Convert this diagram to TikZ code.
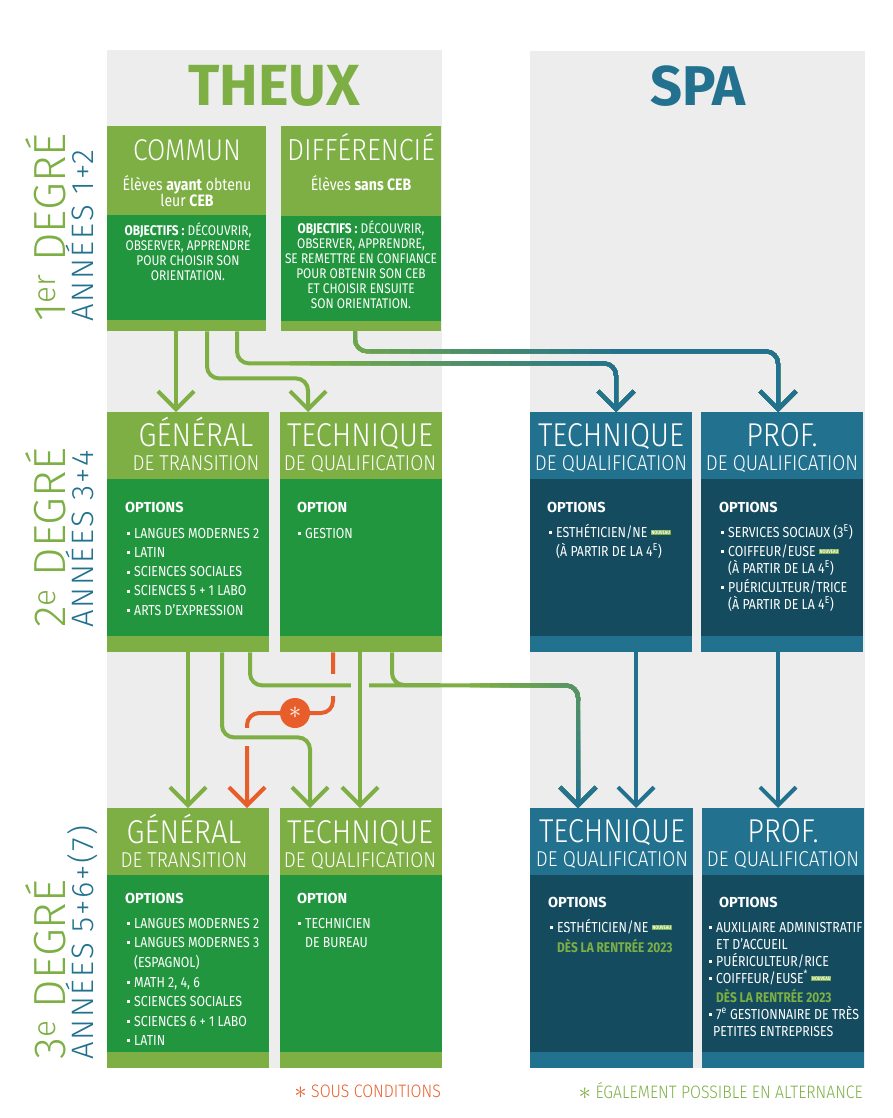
\documentclass[tikz,border=0pt]{standalone}
\usepackage{fontspec}
\setmainfont{Fira Sans}
\newfontfamily\narrow[FakeStretch=0.85]{Fira Sans}
\newfontfamily\thin[FakeStretch=0.88]{Fira Sans Light}
\newfontfamily\thinlbl{Fira Sans Light}
\usetikzlibrary{arrows.meta}

\definecolor{lgreen}{RGB}{125,175,69}
\definecolor{dgreen}{RGB}{34,150,63}
\definecolor{lblue}{RGB}{33,113,143}
\definecolor{dblue}{RGB}{20,75,95}
\definecolor{orng}{RGB}{232,94,42}
\definecolor{panel}{RGB}{237,237,237}

\newcommand{\bul}{\raisebox{3pt}{\rule{3pt}{3pt}}\hspace{4pt}}
\newcommand{\nouveau}{\raisebox{2.5pt}{\fboxsep=0.9pt\colorbox{lgreen}{\fontsize{5}{5}\selectfont\bfseries\color{white}NOUVEAU}}}
\newcommand{\notestar}{{\fontsize{26}{18}\selectfont\raisebox{-1pt}{$\ast$}}}

% name, x, y, width, height, head, strip, light, dark
\newcommand{\stagebox}[9]{%
  \node[anchor=north west, inner sep=0pt, fill=#8, minimum width=#4pt, minimum height=#5pt] (#1) at (#2,#3) {};
  \fill[#9] ([yshift=-#6pt]#1.north west) rectangle ([yshift=#7pt]#1.south east);
}

\def\pathA{([xshift=130pt]commun.south west) -- ++(0,32) -| ([xshift=86pt]spatq2.north west)}
\def\pathB{([xshift=74pt]diff.south west) -- ++(0,20) -| ([xshift=77pt]prof2.north west)}
\def\pathC{([xshift=143pt]gen2.south west) -- ++(0,33) -| ([xshift=48pt]spatq3.north west)}

\tikzset{
  barb/.tip={Straight Barb[length=18pt,width=36pt,line cap=butt,line join=miter]},
  conn/.style={line width=4pt, rounded corners=12pt, -barb},
  gline/.style={conn, draw=lgreen},
  bline/.style={conn, draw=lblue},
  oline/.style={line width=4pt, rounded corners=12pt, draw=orng},
  bigtitle/.style={anchor=base, inner sep=0pt, text=white, text depth=0pt, font=\thin\fontsize{33}{33}\selectfont},
  subtitle/.style={anchor=base, inner sep=0pt, text=white, text height=14pt, text depth=0pt, font=\thin\fontsize{21.5}{22}\selectfont},
  ceb/.style={anchor=base, inner sep=0pt, text=white, font=\narrow\fontsize{16.5}{16}\selectfont},
  objline/.style={anchor=base, inner sep=0pt, text=white, text height=10pt, text depth=2pt, font=\narrow\fontsize{14}{14}\selectfont},
  opthead/.style={anchor=base west, inner sep=0pt, text=white, font=\bfseries\fontsize{14.5}{14}\selectfont},
  optline/.style={anchor=base west, inner sep=0pt, text=white, text height=10pt, text depth=2pt, font=\narrow\fontsize{14.5}{14}\selectfont},
  rentree/.style={optline, text=lgreen, font=\narrow\bfseries\fontsize{14}{14}\selectfont},
  degree/.style={rotate=90, anchor=base west, inner sep=0pt, text=lgreen, font=\thinlbl\fontsize{45}{45}\selectfont},
  years/.style={rotate=90, anchor=base west, inner sep=0pt, text=lblue, font=\thinlbl\fontsize{31}{31}\selectfont\addfontfeature{LetterSpace=6}},
}

\begin{document}
\begin{tikzpicture}[x=1pt, y=-1pt]
	\useasboundingbox (0,0) rectangle (892,1118);

	% panels
	\fill[panel] (107,50) rectangle (442,1068);
	\fill[panel] (530,51) rectangle (865,1068);
	\node[anchor=base, text=lgreen, font=\bfseries\fontsize{58}{58}\selectfont] (theux) at (274,106) {THEUX};
	\node[anchor=base, text=lblue, font=\bfseries\fontsize{56}{56}\selectfont] (spa) at (698,106) {SPA};

	% degree labels
	\node[degree] (deg1) at (65,322) {1\textsuperscript{er} DEGRÉ};
	\node[years] (yr1) at (93,322) {ANNÉES 1+2};
	\node[degree] (deg2) at (65,628) {2\textsuperscript{e} DEGRÉ};
	\node[years] (yr2) at (93,628) {ANNÉES 3+4};
	\node[degree] (deg3) at (65,1060) {3\textsuperscript{e} DEGRÉ};
	\node[years] (yr3) at (93,1060) {ANNÉES 5+6+(7)};

	% boxes
	\stagebox{commun}{107}{126}{159}{205}{89}{11}{lgreen}{dgreen}
	\stagebox{diff}{281}{126}{160}{205}{90}{10}{lgreen}{dgreen}
	\stagebox{gen2}{107}{412}{162}{240}{67}{16}{lgreen}{dgreen}
	\stagebox{tq2}{280}{412}{162}{240}{67}{16}{lgreen}{dgreen}
	\stagebox{spatq2}{530}{412}{162}{240}{67}{16}{lblue}{dblue}
	\stagebox{prof2}{701}{412}{162}{240}{67}{16}{lblue}{dblue}
	\stagebox{gen3}{107}{808}{162}{260}{67}{16}{lgreen}{dgreen}
	\stagebox{tq3}{280}{808}{162}{260}{67}{16}{lgreen}{dgreen}
	\stagebox{spatq3}{530}{808}{163}{260}{67}{16}{lblue}{dblue}
	\stagebox{prof3}{702}{808}{162}{260}{67}{16}{lblue}{dblue}

	% 1er degre
	\node[bigtitle, font=\thin\fontsize{30}{30}\selectfont] (commun-t) at (187,161) {COMMUN};
	\node[ceb] (commun-c1) at (187,190) {Élèves \textbf{ayant} obtenu};
	\node[ceb] (commun-c2) at (187,207) {leur \textbf{CEB}};
	\node[objline] (commun-o1) at (188,235) {\textbf{OBJECTIFS :} DÉCOUVRIR,};
	\node[objline] (commun-o2) at (188,250) {OBSERVER, APPRENDRE};
	\node[objline] (commun-o3) at (188,265) {POUR CHOISIR SON};
	\node[objline] (commun-o4) at (188,280) {ORIENTATION.};

	\node[bigtitle, font=\thin\fontsize{30.5}{30}\selectfont] (diff-t) at (361,161) {DIFFÉRENCIÉ};
	\node[ceb] (diff-c1) at (361,190) {Élèves \textbf{sans CEB}};
	\node[objline] (diff-o1) at (361,233) {\textbf{OBJECTIFS :} DÉCOUVRIR,};
	\node[objline] (diff-o2) at (361,248) {OBSERVER, APPRENDRE,};
	\node[objline] (diff-o3) at (361,263) {SE REMETTRE EN CONFIANCE};
	\node[objline] (diff-o4) at (361,278) {POUR OBTENIR SON CEB};
	\node[objline] (diff-o5) at (361,293) {ET CHOISIR ENSUITE};
	\node[objline] (diff-o6) at (361,308) {SON ORIENTATION.};

	% 2e degre
	\node[bigtitle] (gen2-t) at (196,446) {GÉNÉRAL};
	\node[subtitle] (gen2-s) at (196,470) {DE TRANSITION};
	\node[opthead] (gen2-h) at (125,512) {OPTIONS};
	\foreach \t [count=\i from 0] in {LANGUES MODERNES 2, LATIN, SCIENCES SOCIALES, SCIENCES 5 + 1 LABO, ARTS D’EXPRESSION}
		\node[optline] (gen2-\i) at (127,538+19.3*\i) {\bul\t};

	\node[bigtitle] (tq2-t) at (360,446) {TECHNIQUE};
	\node[subtitle] (tq2-s) at (360,470) {DE QUALIFICATION};
	\node[opthead] (tq2-h) at (297,512) {OPTION};
	\node[optline] (tq2-0) at (298,538) {\bul GESTION};

	\node[bigtitle] (spatq2-t) at (611,446) {TECHNIQUE};
	\node[subtitle] (spatq2-s) at (611,470) {DE QUALIFICATION};
	\node[opthead] (spatq2-h) at (547,512) {OPTIONS};
	\node[optline] (spatq2-0) at (549,537) {\bul ESTHÉTICIEN/NE \nouveau};
	\node[optline] (spatq2-1) at (556,556) {(À PARTIR DE LA 4\textsuperscript{E})};

	\node[bigtitle] (prof2-t) at (782,446) {PROF.};
	\node[subtitle] (prof2-s) at (782,470) {DE QUALIFICATION};
	\node[opthead] (prof2-h) at (719,512) {OPTIONS};
	\node[optline] (prof2-0) at (721,537) {\bul SERVICES SOCIAUX (3\textsuperscript{E})};
	\node[optline] (prof2-1) at (721,556) {\bul COIFFEUR/EUSE \nouveau};
	\node[optline] (prof2-2) at (728,573) {(À PARTIR DE LA 4\textsuperscript{E})};
	\node[optline] (prof2-3) at (721,592) {\bul PUÉRICULTEUR/TRICE};
	\node[optline] (prof2-4) at (728,609) {(À PARTIR DE LA 4\textsuperscript{E})};

	% 3e degre
	\node[bigtitle] (gen3-t) at (184,843) {GÉNÉRAL};
	\node[subtitle] (gen3-s) at (184,867) {DE TRANSITION};
	\node[opthead] (gen3-h) at (125,903) {OPTIONS};
	\node[optline] (gen3-0) at (127,928) {\bul LANGUES MODERNES 2};
	\node[optline] (gen3-1) at (127,947) {\bul LANGUES MODERNES 3};
	\node[optline] (gen3-2) at (134,967) {(ESPAGNOL)};
	\node[optline] (gen3-3) at (127,987) {\bul MATH 2, 4, 6};
	\node[optline] (gen3-4) at (127,1006) {\bul SCIENCES SOCIALES};
	\node[optline] (gen3-5) at (127,1026) {\bul SCIENCES 6 + 1 LABO};
	\node[optline] (gen3-6) at (127,1045) {\bul LATIN};

	\node[bigtitle] (tq3-t) at (360,843) {TECHNIQUE};
	\node[subtitle] (tq3-s) at (360,867) {DE QUALIFICATION};
	\node[opthead] (tq3-h) at (297,903) {OPTION};
	\node[optline] (tq3-0) at (298,928) {\bul TECHNICIEN};
	\node[optline] (tq3-1) at (305,947) {DE BUREAU};

	\node[bigtitle] (spatq3-t) at (612,842) {TECHNIQUE};
	\node[subtitle] (spatq3-s) at (612,866) {DE QUALIFICATION};
	\node[opthead] (spatq3-h) at (548,907) {OPTIONS};
	\node[optline] (spatq3-0) at (550,932) {\bul ESTHÉTICIEN/NE \nouveau};
	\node[rentree] (spatq3-1) at (557,952) {DÈS LA RENTRÉE 2023};

	\node[bigtitle] (prof3-t) at (783,842) {PROF.};
	\node[subtitle] (prof3-s) at (783,866) {DE QUALIFICATION};
	\node[opthead] (prof3-h) at (719,907) {OPTIONS};
	\node[optline] (prof3-0) at (709,932) {\bul AUXILIAIRE ADMINISTRATIF};
	\node[optline] (prof3-1) at (716,949) {ET D’ACCUEIL};
	\node[optline] (prof3-2) at (709,966) {\bul PUÉRICULTEUR/RICE};
	\node[optline] (prof3-3) at (709,983) {\bul COIFFEUR/EUSE\textsuperscript{*} \nouveau};
	\node[rentree] (prof3-4) at (716,1002) {DÈS LA RENTRÉE 2023};
	\node[optline] (prof3-5) at (709,1019) {\bul 7\textsuperscript{e} GESTIONNAIRE DE TRÈS};
	\node[optline] (prof3-6) at (713,1036) {PETITES ENTREPRISES};

	% connectors 1 -> 2
	\draw[gline] ([xshift=69pt]commun.south west) -- ([xshift=69pt]gen2.north west);
	\draw[gline] ([xshift=100pt]commun.south west) -- ++(0,47) -| ([xshift=28pt]tq2.north west);
	\draw[gline] \pathA;
	\draw[gline] \pathB;
	\foreach \k in {0,...,16}{
		\pgfmathtruncatemacro\p{100*\k/16}
		\begin{scope}
			\clip (290+20*\k,330) rectangle (892,416);
			\draw[conn, draw=lblue!\p!lgreen] \pathA;
			\draw[conn, draw=lblue!\p!lgreen] \pathB;
		\end{scope}
	}

	% connectors 2 -> 3
	\node[circle, fill=orng, inner sep=0pt, minimum size=30pt, text=white, font=\fontsize{24}{24}\selectfont] (cond) at (295,713) {\raisebox{-2pt}{$\ast$}};
	\draw[oline] ([xshift=53pt]tq2.south west) |- (cond);
	\draw[oline, -barb] (cond) -| ([xshift=140pt]gen3.north west);
	\fill[panel] (330,674) rectangle (336,696);
	\fill[panel] (244,728) rectangle (250,746);

	\draw[gline] ([xshift=81pt]gen2.south west) -- ([xshift=81pt]gen3.north west);
	\draw[gline] ([xshift=115pt]gen2.south west) -- ++(0,85) -| ([xshift=30pt]tq3.north west);
	\draw[gline] \pathC;
	\foreach \k in {0,...,10}{
		\pgfmathtruncatemacro\p{4.5*\k}
		\begin{scope}
			\clip (470+10*\k,640) rectangle (892,700);
			\draw[conn, draw=lblue!\p!lgreen] \pathC;
		\end{scope}
	}
	\foreach \k in {0,...,11}{
		\pgfmathtruncatemacro\p{45+5*\k}
		\begin{scope}
			\clip (540,690+10*\k) rectangle (620,812);
			\draw[conn, draw=lblue!\p!lgreen] \pathC;
		\end{scope}
	}
	\draw[line width=4pt, rounded corners=12pt, draw=lgreen] ([xshift=112pt]tq2.south west) |- (440,685);
	\fill[panel] (351,681) rectangle (369,689);
	\draw[gline] ([xshift=80pt]tq2.south west) -- ([xshift=80pt]tq3.north west);

	\draw[bline] ([xshift=106pt]spatq2.south west) -- ([xshift=106pt]spatq3.north west);
	\draw[bline] ([xshift=77pt]prof2.south west) -- ([xshift=76pt]prof3.north west);

	% notes
	\node[anchor=base east, inner sep=0pt, text=orng, font=\thin\fontsize{18}{18}\selectfont] (note-cond) at (441,1097) {\notestar\ SOUS CONDITIONS};
	\node[anchor=base east, inner sep=0pt, text=lgreen, font=\thin\fontsize{18}{18}\selectfont] (note-alt) at (863,1098) {\notestar\ ÉGALEMENT POSSIBLE EN ALTERNANCE};
\end{tikzpicture}
\end{document}
